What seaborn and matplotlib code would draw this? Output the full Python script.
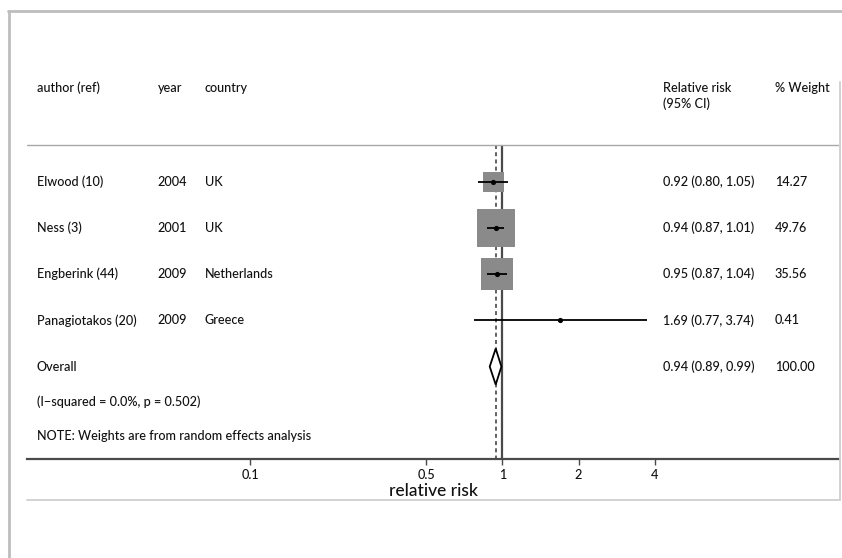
import numpy as np
import pandas as pd
import matplotlib
matplotlib.use("Agg")
import matplotlib.pyplot as plt
from matplotlib.lines import Line2D
import seaborn as sns

# study data
authors = ["Elwood (10)", "Ness (3)", "Engberink (44)", "Panagiotakos (20)"]
years = ["2004", "2001", "2009", "2009"]
countries = ["UK", "UK", "Netherlands", "Greece"]
rr = [0.92, 0.94, 0.95, 1.69]
ci_lo = [0.80, 0.87, 0.87, 0.77]
ci_hi = [1.05, 1.01, 1.04, 3.74]
weights = [14.27, 49.76, 35.56, 0.41]

overall_rr = 0.94
overall_lo = 0.89
overall_hi = 0.99
overall_weight = 100.00
heterogeneity = "(I\u2212squared = 0.0%, p = 0.502)"
note = "NOTE: Weights are from random effects analysis"

x_ticks = [0.1, 0.5, 1, 2, 4]
x_ticklabels = ["0.1", "0.5", "1", "2", "4"]

df = pd.DataFrame({"author": authors, "year": years, "country": countries,
                   "rr": rr, "lo": ci_lo, "hi": ci_hi, "weight": weights})
df["row"] = np.arange(len(df))
overall_row = len(df)

sns.set_style("white")
plt.rcParams["font.family"] = ["Lato", "DejaVu Sans"]
txt_color = "#111111"
fs = 9.1
fw = "medium"

W, H = 842, 558
fig = plt.figure(figsize=(W / 100, H / 100), dpi=100)

# outer frame and inner panel border (pixel layout)
def px_line(x0, y0, x1, y1, color, lw):
    fig.add_artist(Line2D([x0 / W, x1 / W], [1 - y0 / H, 1 - y1 / H],
                          color=color, lw=lw, transform=fig.transFigure))

px_line(8, 11, 842, 11, "#bdbdbd", 2.0)
px_line(9, 11, 9, 558, "#bdbdbd", 2.0)
px_line(840, 82, 840, 500, "#cfcfcf", 1.3)
px_line(27, 500, 840, 500, "#cfcfcf", 1.3)

ax = fig.add_axes([27 / W, 1 - 459 / H, (839 - 27) / W, (459 - 82) / H])
ax.set_xscale("log")
ax.set_xlim(10 ** ((27 - 502.5) / 252.5), 10 ** ((839 - 502.5) / 252.5))
ax.set_ylim(6.0, -2.16)
ax.patch.set_alpha(0)

sep_y = -0.8
ax.axhline(sep_y, color="#a8a8a8", lw=1.0)

# null line and overall estimate line
ax.vlines(1, sep_y, 6.0, color="#4a4a4a", lw=1.6, zorder=1)
ax.vlines(overall_rr, sep_y, 6.0, color="#555555", lw=1.3,
          linestyles=(0, (2.2, 1.8)), zorder=1)

# weight boxes, area proportional to weight
sns.scatterplot(data=df, x="rr", y="row", size="weight", sizes=(0, 760),
                size_norm=(0, max(weights)), marker="s", color="#8a8a8a",
                linewidth=0, legend=False, ax=ax, zorder=2)
ax.hlines(df["row"], df["lo"], df["hi"], color="black", lw=1.3, zorder=3)
sns.scatterplot(data=df, x="rr", y="row", s=14, color="black",
                linewidth=0, legend=False, ax=ax, zorder=4)

# overall diamond
dx = [overall_lo, overall_rr, overall_hi, overall_rr, overall_lo]
dy = [overall_row, overall_row - 0.39, overall_row, overall_row + 0.39, overall_row]
ax.fill(dx, dy, facecolor="white", edgecolor="black", lw=1.3, zorder=3)

# text columns (x in axes fraction, y in rows)
tr = ax.get_yaxis_transform()
col_x = {"author": 0.0123, "year": 0.161, "country": 0.219, "ci": 0.783, "w": 0.921}
kw = dict(transform=tr, fontsize=fs, va="center", color=txt_color, fontweight=fw)
hdr_y = -2.03
ax.text(col_x["author"], hdr_y, "author (ref)", **kw)
ax.text(col_x["year"], hdr_y, "year", **kw)
ax.text(col_x["country"], hdr_y, "country", **kw)
ax.text(col_x["ci"], hdr_y, "Relative risk", **kw)
ax.text(col_x["ci"], -1.69, "(95% CI)", **kw)
ax.text(col_x["w"], hdr_y, "% Weight", **kw)

for _, r in df.iterrows():
    ax.text(col_x["author"], r["row"], r["author"], **kw)
    ax.text(col_x["year"], r["row"], r["year"], **kw)
    ax.text(col_x["country"], r["row"], r["country"], **kw)
    ax.text(col_x["ci"], r["row"], f"{r['rr']:.2f} ({r['lo']:.2f}, {r['hi']:.2f})", **kw)
    ax.text(col_x["w"], r["row"], f"{r['weight']:.2f}", **kw)

ax.text(col_x["author"], overall_row, "Overall", **kw)
ax.text(col_x["ci"], overall_row, f"{overall_rr:.2f} ({overall_lo:.2f}, {overall_hi:.2f})", **kw)
ax.text(col_x["w"], overall_row, f"{overall_weight:.2f}", **kw)
ax.text(col_x["author"], overall_row + 0.76, heterogeneity, **kw)
ax.text(col_x["author"], overall_row + 1.5, note, **kw)

# axis styling
for s in ["top", "left", "right"]:
    ax.spines[s].set_visible(False)
ax.spines["bottom"].set_color("#4a4a4a")
ax.spines["bottom"].set_linewidth(1.6)
ax.set_yticks([])
ax.set_ylabel("")
ax.set_xticks(x_ticks)
ax.set_xticklabels(x_ticklabels, fontweight=fw)
ax.minorticks_off()
ax.tick_params(axis="x", direction="out", length=4, width=1.0, color="#4a4a4a",
               labelsize=fs, labelcolor=txt_color, pad=3, bottom=True)
ax.set_xlabel("relative risk", fontsize=12.5, color=txt_color, labelpad=2, fontweight=fw)

fig.savefig("out.png", dpi=100)
